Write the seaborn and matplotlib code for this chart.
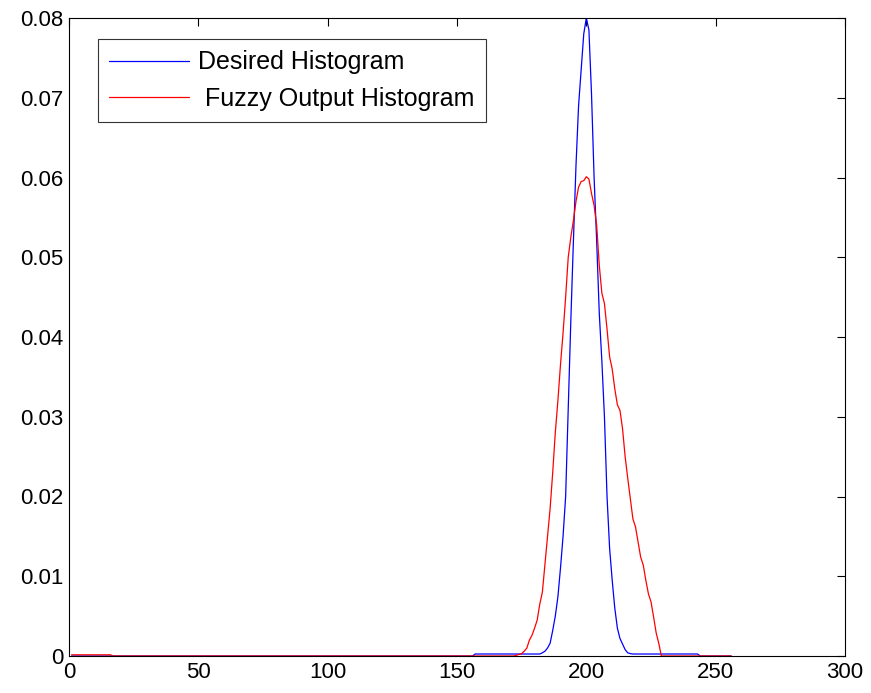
import numpy as np
import pandas as pd
import matplotlib
matplotlib.use("Agg")
import matplotlib.pyplot as plt
import seaborn as sns

# ---- data (bins 1..256) ----
bins = list(range(1, 257))

# Desired histogram: flat low level 157..243, peak around 200
desired_left_zero = [0.0] * 156                 # bins 1..156
desired_low_a = [0.00025] * 26                  # bins 157..182
desired_peak = [0.0004, 0.0006, 0.001, 0.0016, 0.0032, 0.005, 0.0074,   # 183..189
                0.011, 0.015, 0.020, 0.031, 0.042, 0.052, 0.0615,        # 190..196
                0.069, 0.0735, 0.078, 0.080, 0.0785, 0.0705, 0.060,      # 197..203
                0.052, 0.043, 0.037, 0.030, 0.020, 0.0135, 0.0095,       # 204..210
                0.006, 0.0035, 0.0022, 0.0015, 0.0008, 0.0004, 0.0003]   # 211..217
desired_low_b = [0.00025] * 26                  # bins 218..243
desired_right_zero = [0.0] * 13                 # bins 244..256

# Fuzzy output histogram
fuzzy_left = [0.00015] * 16                     # bins 1..16
fuzzy_zero_a = [0.0] * 156                      # bins 17..172
fuzzy_peak = [0.0001, 0.0002, 0.0003, 0.0006, 0.001, 0.002, 0.0026,     # 173..179
              0.0035, 0.0045, 0.0065, 0.008, 0.0115, 0.015, 0.0185,     # 180..186
              0.023, 0.028, 0.032, 0.0365, 0.0405, 0.045, 0.050,        # 187..193
              0.0525, 0.0546, 0.057, 0.0588, 0.0595, 0.0596, 0.0601,    # 194..200
              0.0598, 0.058, 0.0565, 0.054, 0.049, 0.0455, 0.0442,      # 201..207
              0.041, 0.0375, 0.036, 0.0335, 0.0315, 0.0308, 0.0285,     # 208..214
              0.025, 0.0223, 0.0198, 0.0172, 0.0162, 0.0143, 0.0124,    # 215..221
              0.0114, 0.0095, 0.0078, 0.0068, 0.0049, 0.0029, 0.0016]   # 222..228
fuzzy_zero_b = [0.0] * 28                       # bins 229..256

desired = desired_left_zero + desired_low_a + desired_peak + desired_low_b + desired_right_zero
fuzzy = fuzzy_left + fuzzy_zero_a + fuzzy_peak + fuzzy_zero_b

labels = ["Desired Histogram", " Fuzzy Output Histogram"]
xticks = [0, 50, 100, 150, 200, 250, 300]
yticks = [0, 0.01, 0.02, 0.03, 0.04, 0.05, 0.06, 0.07, 0.08]
ytick_labels = ["0", "0.01", "0.02", "0.03", "0.04", "0.05", "0.06", "0.07", "0.08"]

df = pd.DataFrame({"bin": bins * 2,
                   "value": desired + fuzzy,
                   "series": [labels[0]] * len(bins) + [labels[1]] * len(bins)})

sns.set_style("white")
plt.rcParams["font.family"] = ["Liberation Sans", "DejaVu Sans"]
plt.rcParams["text.color"] = "black"

fig = plt.figure(figsize=(8.71, 6.93), dpi=100)
ax = fig.add_axes([69 / 871, 37 / 693, (845 - 69) / 871, (656 - 18) / 693])

sns.lineplot(data=df, x="bin", y="value", hue="series",
             palette={labels[0]: "#0000ff", labels[1]: "#ff0000"},
             linewidth=0.9, ax=ax, estimator=None, sort=False)

ax.set_xlim(0, 300)
ax.set_ylim(0, 0.08)
ax.set_xticks(xticks)
ax.set_xticklabels([str(t) for t in xticks])
ax.set_yticks(yticks)
ax.set_yticklabels(ytick_labels)
ax.set_xlabel("")
ax.set_ylabel("")

for s in ax.spines.values():
    s.set_visible(True)
    s.set_color("black")
    s.set_linewidth(0.8)

ax.tick_params(direction="in", length=6, width=0.8, top=True, right=True,
               labelsize=16, colors="black", pad=4)

leg = ax.legend(loc="upper left", bbox_to_anchor=(29 / 776, 1 - 21 / 638),
                fontsize=18, frameon=True, fancybox=False, shadow=False,
                handlelength=3.2, handletextpad=0.35, borderpad=0.45,
                labelspacing=0.5, borderaxespad=0)
leg.get_frame().set_edgecolor("black")
leg.get_frame().set_linewidth(0.8)
leg.set_title(None)
for t in leg.get_texts():
    t.set_color("black")

fig.savefig("out.png", dpi=100, facecolor="white")
